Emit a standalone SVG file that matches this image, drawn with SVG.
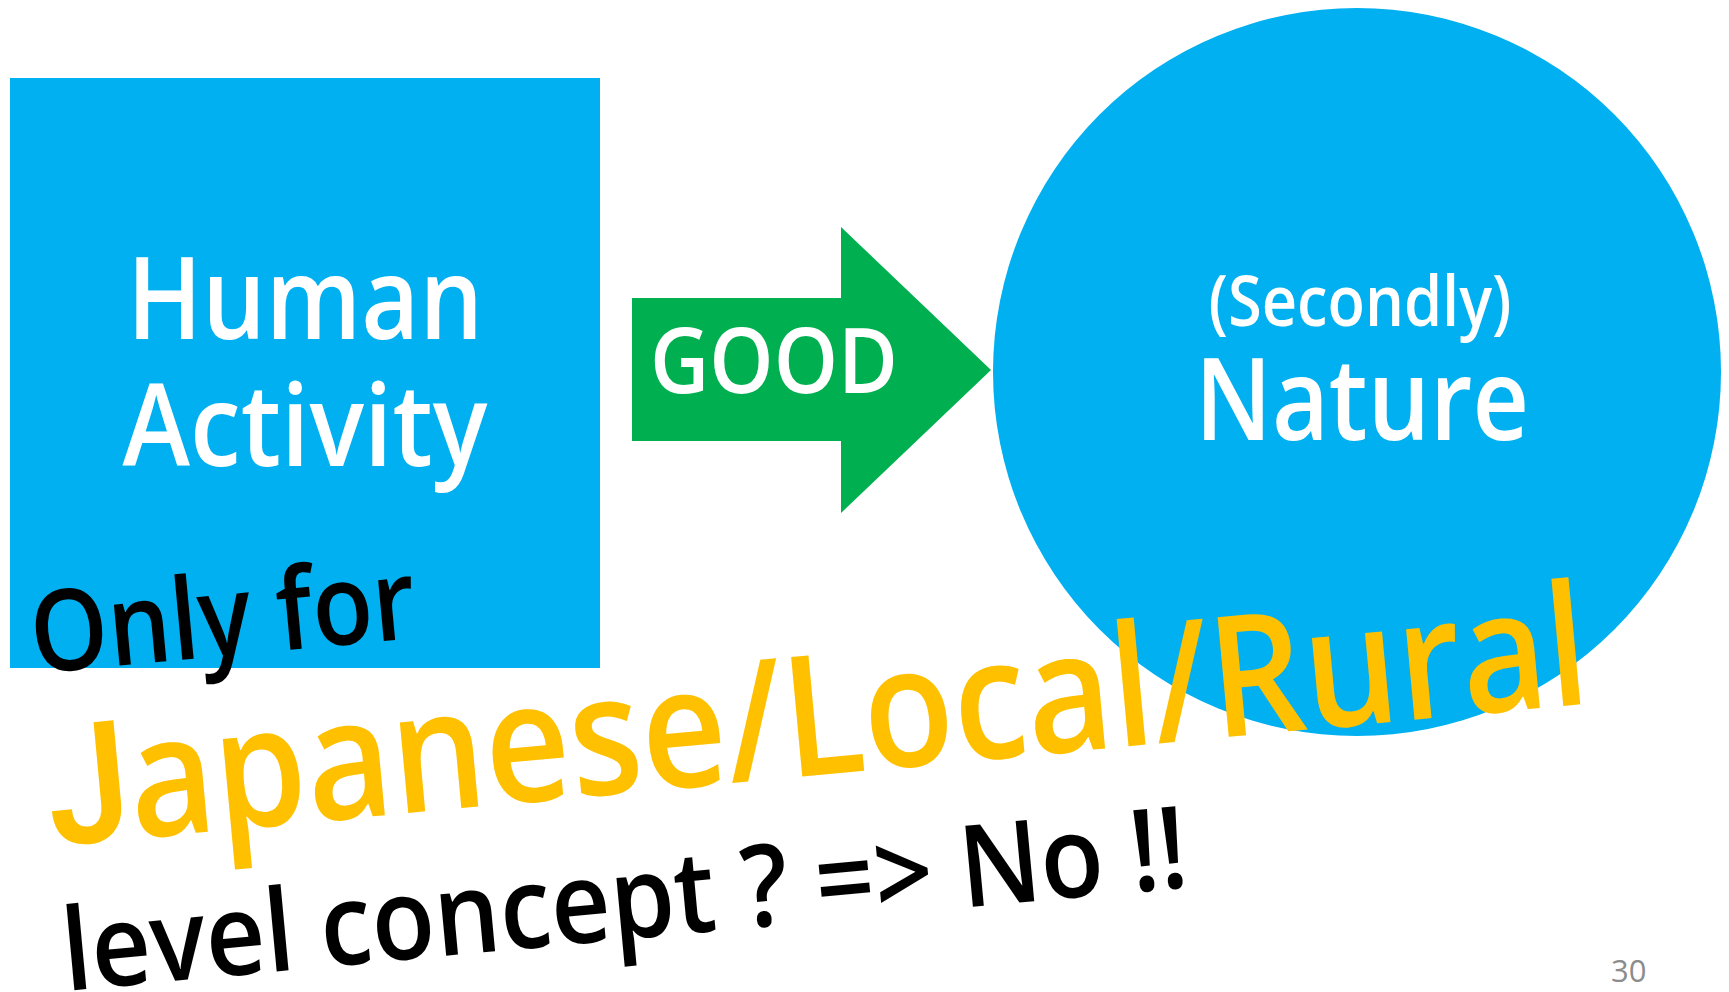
<svg xmlns="http://www.w3.org/2000/svg" width="1729" height="992" viewBox="0 0 1729 992">
  <style>
    text { font-family: 'Open Sans', 'Noto Sans', sans-serif; font-weight: 600; }
    .box { fill: #00B0F0; }
    .arrow { fill: #00B050; }
    .label-white { fill: #FFFFFF; }
    .note-black { fill: #000000; }
    .note-yellow { fill: #FFC000; }
    .page-num { fill: #8C8C8C; font-weight: 400; }
    .base-j { font-family: Roboto, 'Open Sans', sans-serif; }
  </style>

  <rect width="1729" height="992" fill="#FFFFFF"/>

  <!-- Left node: square -->
  <g id="node-human-activity">
    <rect class="box" x="10" y="78" width="590" height="590"/>
    <text class="label-white" x="305" y="339" font-size="115" text-anchor="middle" textLength="356" lengthAdjust="spacingAndGlyphs">Human</text>
    <text class="label-white" x="305" y="466" font-size="115" text-anchor="middle" textLength="365" lengthAdjust="spacingAndGlyphs">Activity</text>
  </g>

  <!-- Block arrow between the two nodes -->
  <g id="connectors">
    <polygon class="arrow" points="632,298 841,298 841,227 991,370 841,513 841,441 632,441"/>
    <text class="label-white" x="774" y="393" font-size="91" text-anchor="middle" textLength="248" lengthAdjust="spacingAndGlyphs">GOOD</text>
  </g>

  <!-- Right node: circle -->
  <g id="node-nature">
    <circle class="box" cx="1357" cy="372" r="364"/>
    <text class="label-white" x="1360" y="326" font-size="70" text-anchor="middle" textLength="303" lengthAdjust="spacingAndGlyphs">(Secondly)</text>
    <text class="label-white" x="1362" y="440" font-size="114" text-anchor="middle" textLength="334" lengthAdjust="spacingAndGlyphs">Nature</text>
  </g>

  <!-- Tilted remarks -->
  <g id="remarks">
    <text class="note-black" transform="translate(34,673.5) rotate(-5.3)" x="0" y="0" font-size="113" textLength="386" lengthAdjust="spacingAndGlyphs">Only for</text>
    <text class="note-yellow" transform="translate(52,846) rotate(-5.3)" x="0" y="0" font-size="168" textLength="1547" lengthAdjust="spacingAndGlyphs"><tspan class="base-j">J</tspan>apanese/Local/Rural</text>
    <text class="note-black" transform="translate(66,991) rotate(-5.3)" x="0" y="0" font-size="114" textLength="1129" lengthAdjust="spacingAndGlyphs">level concept ? =&gt; No !!</text>
  </g>

  <!-- Page number -->
  <text class="page-num" x="1611" y="982" font-size="31">30</text>
</svg>
